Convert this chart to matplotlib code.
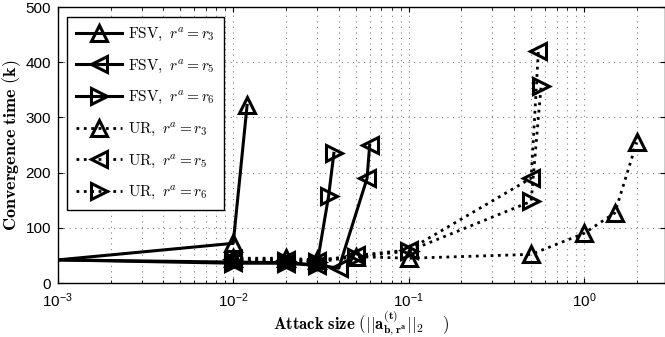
import matplotlib
matplotlib.use("Agg")
import matplotlib.pyplot as plt
from matplotlib.ticker import LogLocator, NullFormatter

plt.rcParams['mathtext.fontset'] = 'cm'
plt.rcParams['font.family'] = ['Liberation Sans', 'DejaVu Sans']

# FSV series (solid); first point (1e-3) has no marker in the original
fsv_r3_x = [1e-3, 1e-2, 1.2e-2]
fsv_r3_y = [42, 72, 322]
fsv_r5_x = [1e-3, 1e-2, 2e-2, 3e-2, 4e-2, 5.8e-2, 6e-2]
fsv_r5_y = [42, 38, 37, 33, 27, 190, 250]
fsv_r6_x = [1e-3, 1e-2, 2e-2, 3e-2, 3.5e-2, 3.75e-2]
fsv_r6_y = [42, 36, 36, 32, 158, 235]

# UR series (dotted)
ur_r3_x = [1e-2, 2e-2, 3e-2, 5e-2, 1e-1, 5e-1, 1.0, 1.5, 2.0]
ur_r3_y = [45, 45, 42, 48, 45, 52, 90, 127, 255]
ur_r5_x = [1e-2, 2e-2, 3e-2, 5e-2, 1e-1, 5e-1, 5.5e-1]
ur_r5_y = [43, 42, 40, 50, 60, 190, 420]
ur_r6_x = [1e-2, 2e-2, 3e-2, 5e-2, 1e-1, 5e-1, 5.7e-1]
ur_r6_y = [40, 40, 38, 48, 58, 148, 357]

labels = [r'$\mathrm{FSV},\ r^a = r_3$', r'$\mathrm{FSV},\ r^a = r_5$', r'$\mathrm{FSV},\ r^a = r_6$',
          r'$\mathrm{UR},\ r^a = r_3$', r'$\mathrm{UR},\ r^a = r_5$', r'$\mathrm{UR},\ r^a = r_6$']

fig = plt.figure(figsize=(6.65, 3.37), dpi=100)
ax = fig.add_axes([0.087, 0.16, 0.913, 0.819])
ax.set_axisbelow(True)

mk = dict(markersize=12, mew=2.2, mfc='none', mec='k', color='k')
skip = slice(1, None)
ax.plot(fsv_r3_x, fsv_r3_y, '-', marker='^', lw=2.2, markevery=skip, label=labels[0], **mk)
ax.plot(fsv_r5_x, fsv_r5_y, '-', marker='<', lw=2.2, markevery=skip, label=labels[1], **mk)
ax.plot(fsv_r6_x, fsv_r6_y, '-', marker='>', lw=2.2, markevery=skip, label=labels[2], **mk)
ax.plot(ur_r3_x, ur_r3_y, ':', marker='^', lw=2.0, label=labels[3], **mk)
ax.plot(ur_r5_x, ur_r5_y, ':', marker='<', lw=2.0, label=labels[4], **mk)
ax.plot(ur_r6_x, ur_r6_y, ':', marker='>', lw=2.0, label=labels[5], **mk)

ax.set_xscale('log')
ax.set_xlim(1e-3, 2.9)
ax.set_ylim(0, 500)
ax.set_yticks([0, 100, 200, 300, 400, 500])
ax.xaxis.set_minor_locator(LogLocator(base=10, subs=range(2, 10), numticks=20))
ax.xaxis.set_minor_formatter(NullFormatter())

gstyle = dict(linestyle=(0, (1, 4)), color='0.5', lw=0.8)
ax.grid(True, which='major', **gstyle)
ax.grid(True, which='minor', axis='x', **gstyle)
ax.tick_params(direction='in', top=True, right=True, labelsize=11, width=0.8)
ax.tick_params(axis='x', pad=6)
ax.tick_params(axis='y', pad=5)
ax.tick_params(which='minor', direction='in', top=True, length=2.5)
for s in ax.spines.values():
    s.set_linewidth(1.0)

ax.set_ylabel(r'$\mathbf{Convergence\ time\ (k)}$', fontsize=13, labelpad=2)
ax.set_xlabel(r'$\mathbf{Attack\ size\ (}||\mathbf{a}^{(\mathbf{t})}_{\mathbf{b},\mathbf{r}^{\mathbf{a}}}||_{\mathbf{2}}\quad\ \mathbf{)}$',
              fontsize=12, labelpad=-1)

leg = ax.legend(loc='upper left', fontsize=11, handlelength=3.0, handletextpad=0.4,
                labelspacing=0.95, fancybox=False, edgecolor='k', framealpha=1,
                borderpad=0.6, bbox_to_anchor=(0.002, 0.993))
leg.get_frame().set_linewidth(1.0)

fig.savefig('out.png', dpi=100)
